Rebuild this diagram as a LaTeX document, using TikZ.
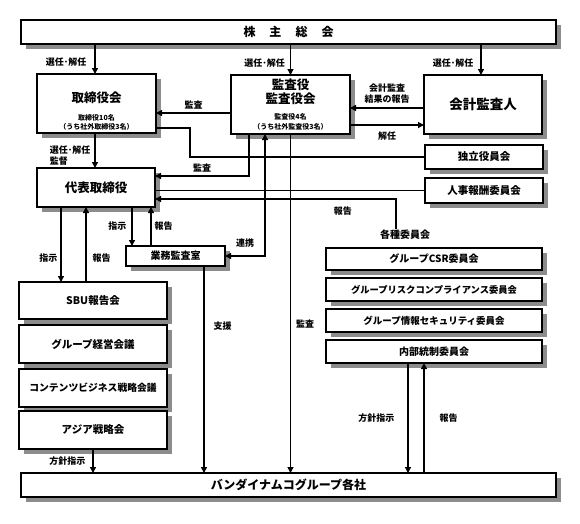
\documentclass[tikz,border=0pt]{standalone}
\usepackage{fontspec}
\setmainfont{Noto Sans CJK JP}
\usetikzlibrary{arrows.meta,shadows}

\begin{document}
\begin{tikzpicture}[x=1pt,y=-1pt,line width=1.3pt,>={Triangle[length=6pt,width=6pt]},
    box/.style={draw,fill=white,inner sep=0pt,outer sep=0pt,align=center,
      font=\bfseries\fontsize{10.5}{12}\selectfont,
      drop shadow={shadow xshift=5pt,shadow yshift=-5pt,fill=black!45,opacity=1}},
    lbl/.style={font=\bfseries\fontsize{9}{11}\selectfont,inner sep=0pt}]
    \useasboundingbox (0,0) rectangle (580,523);
    % top and bottom bars
    \node[box,minimum width=535pt,minimum height=24pt,font=\bfseries\fontsize{12}{14}\selectfont] (gm) at (288.5,32) {株\hspace{14pt}主\hspace{14pt}総\hspace{14pt}会};
    \node[box,minimum width=535pt,minimum height=24pt,font=\bfseries\fontsize{12}{14}\selectfont] (group) at (288.5,485) {バンダイナムコグループ各社};
    % boards
    \node[box,minimum width=119pt,minimum height=59pt] (board) at (96.5,103.5)
      {{\fontsize{12.5}{14}\selectfont\rule{0pt}{26pt}取締役会}\\[6pt]{\fontsize{7}{9}\selectfont 取締役10名}\\[-2.5pt]{\fontsize{7}{9}\selectfont （うち社外取締役3名）}};
    \node[box,minimum width=119pt,minimum height=59pt] (audit) at (290.5,104.5)
      {{\fontsize{12.5}{14}\selectfont 監査役}\\[2pt]{\fontsize{12.5}{14}\selectfont 監査役会}\\[4.5pt]{\fontsize{7}{9}\selectfont 監査役4名}\\[-2.5pt]{\fontsize{7}{9}\selectfont （うち社外監査役3名）}};
    \node[box,minimum width=118pt,minimum height=59pt,font=\bfseries\fontsize{13.5}{15}\selectfont] (acct) at (483,104.5) {会計監査人};
    \node[box,minimum width=118pt,minimum height=24pt] (indep) at (484,157) {独立役員会};
    \node[box,minimum width=118pt,minimum height=25pt] (hr) at (484,190.5) {人事報酬委員会};
    \node[box,minimum width=118pt,minimum height=39pt,font=\bfseries\fontsize{12.5}{14}\selectfont] (ceo) at (96,187.5) {代表取締役};
    \node[box,minimum width=99pt,minimum height=20pt,font=\bfseries\fontsize{10}{12}\selectfont] (office) at (175.5,256) {業務監査室};
    % meetings
    \node[box,minimum width=148pt,minimum height=37pt] (sbu) at (93,300.5) {SBU報告会};
    \node[box,minimum width=148pt,minimum height=38pt] (mgmt) at (93,344) {グループ経営会議};
    \node[box,minimum width=148pt,minimum height=38pt,font=\bfseries\fontsize{9.8}{12}\selectfont] (content) at (93,388) {コンテンツビジネス戦略会議};
    \node[box,minimum width=148pt,minimum height=38pt] (asia) at (93,430) {アジア戦略会};
    % committees
    \node[font=\bfseries\fontsize{10}{12}\selectfont,inner sep=1pt] (kind) at (405,235) {各種委員会};
    \node[box,minimum width=216pt,minimum height=22pt,font=\bfseries\fontsize{10}{12}\selectfont] (csr) at (434,259) {グループCSR委員会};
    \node[box,minimum width=216pt,minimum height=23pt,font=\bfseries\fontsize{9.3}{12}\selectfont] (risk) at (434,289.5) {グループリスクコンプライアンス委員会};
    \node[box,minimum width=216pt,minimum height=23pt,font=\bfseries\fontsize{9.5}{12}\selectfont] (sec) at (434,320.5) {グループ情報セキュリティ委員会};
    \node[box,minimum width=216pt,minimum height=23pt,font=\bfseries\fontsize{10}{12}\selectfont] (ic) at (434,351.5) {内部統制委員会};

    % shareholders meeting
    \draw[->] (gm.south -| 95,0) -- node[lbl,left=8pt,pos=0.6] {選任･解任} (board.north -| 95,0);
    \draw[->] (gm.south -| audit) -- node[lbl,left=5pt,pos=0.6] {選任･解任} (audit.north);
    \draw[->] (gm.south -| 481,0) -- node[lbl,left=7pt,pos=0.6] {選任･解任} (acct.north -| 481,0);
    % audit and accounting
    \draw[->] (audit.west |- 0,113) -- node[lbl,above=3pt] {監査} (board.east |- 0,113);
    \draw[->] (acct.west |- 0,108) -- node[lbl,above=4pt,align=center] {会計監査\\結果の報告} (audit.east |- 0,108);
    \draw[->] (audit.east |- 0,125) -- node[lbl,below=6pt] {解任} (acct.west |- 0,125);
    \draw (board.east |- 0,128) -| (190,157) -- (indep.west);
    \draw[->] (board.south -| 95,0) -- node[lbl,left=4pt,pos=0.64,align=left] {選任･解任\\監督} (ceo.north -| 95,0);
    \draw[->] (audit.south -| 249,0) |- node[lbl,above=3pt,pos=0.75] {監査} (ceo.east |- 0,176);
    \draw (ceo.east |- hr) -- (hr.west);
    \draw[->] (kind.north -| 396,0) |- node[lbl,below=7pt,pos=0.61] {報告} (ceo.east |- 0,199);
    \draw[<->] (audit.south -| 265,0) |- node[lbl,above=8pt,pos=0.75] {連携} (office.east);
    \draw[->] (audit.south) -- node[lbl,right=5pt,pos=0.56] {監査} (audit.south |- group.north);
    % internal audit office
    \draw[->] (ceo.south -| 132,0) -- node[lbl,left=5pt] {指示} (office.north -| 132,0);
    \draw[->] (office.north -| 151,0) -- node[lbl,right=3pt] {報告} (ceo.south -| 151,0);
    \draw[->] (office.south -| 204,0) -- node[lbl,right=9pt,pos=0.29] {支援} (group.north -| 204,0);
    % meetings
    \draw[->] (ceo.south -| 61,0) -- node[lbl,left=3pt,pos=0.68] {指示} (sbu.north -| 61,0);
    \draw[->] (sbu.north -| 86,0) -- node[lbl,right=6pt,pos=0.32] {報告} (ceo.south -| 86,0);
    \draw[->] (asia.south -| 93,0) -- node[lbl,left=7pt] {方針指示} (group.north -| 93,0);
    % committees
    \draw[->] (ic.south -| 408,0) -- node[lbl,left=13pt] {方針指示} (group.north -| 408,0);
    \draw[->] (group.north -| 424,0) -- node[lbl,right=15pt] {報告} (ic.south -| 424,0);
\end{tikzpicture}
\end{document}
